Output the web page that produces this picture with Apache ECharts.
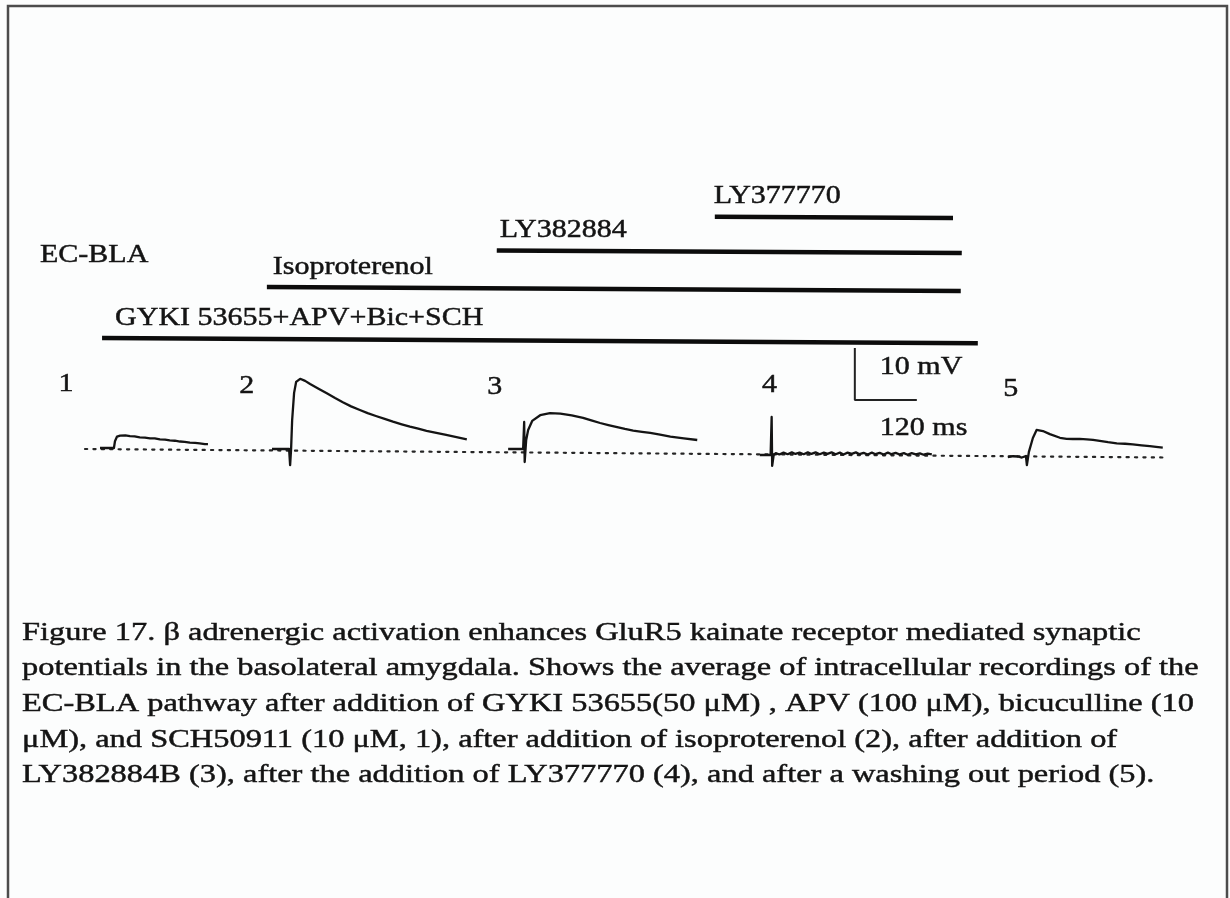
<!DOCTYPE html>
<html>
<head>
<meta charset="utf-8">
<script src="https://cdn.jsdelivr.net/npm/echarts@6/dist/echarts.min.js"></script>
<style>
  html, body { margin: 0; padding: 0; background: #fcfdfd; }
  #chart { width: 1230px; height: 898px; }
</style>
</head>
<body>
<div id="chart"></div>
<script>
// ---- Drug application periods, in ms on the common sweep time axis ----
const drugNames = ['GYKI 53655+APV+Bic+SCH', 'Isoproterenol', 'LY382884', 'LY377770'];
const drugStart = [33, 352, 797, 1219];
const drugEnd   = [1728, 1695, 1697, 1680];

// ---- Averaged recordings: label, stimulus onset (ms) and resting level (mV) ----
const sweepNames    = ['1', '2', '3', '4', '5'];
const sweepOnset    = [58, 397, 850, 1329, 1823];
const sweepBaseline = [1.92, 1.73, 1.73, 0.58, 0.19];

// Time after stimulus (ms) and potential change from rest (mV)
const sweep1T = [-29, -2, 0, 4, 10, 20, 29, 38, 48, 58, 68, 77, 87, 97, 106, 116, 126, 135, 145, 155, 164, 174, 180];
const sweep1V = [0, 0, 1.3, 2.2, 2.4, 2.45, 2.3, 2.25, 2.05, 2.0, 1.85, 1.85, 1.65, 1.6, 1.45, 1.4, 1.25, 1.2, 1.05, 1.0, 0.9, 0.75, 0.75];

const sweep2T = [-35, -2, 0, 1.9, 3.9, 7.7, 11.6, 19.4, 29, 38.7, 55, 71, 87, 102, 118, 135, 150, 166, 183, 199, 216, 232, 248, 264, 283, 302, 322, 342];
const sweep2V = [0, 0, -3.1, 0, 5.5, 10.8, 12.9, 13.5, 13.1, 12.5, 11.6, 10.7, 9.8, 9.0, 8.2, 7.5, 6.9, 6.35, 5.8, 5.25, 4.75, 4.3, 3.9, 3.5, 3.1, 2.7, 2.3, 1.87];

const sweep3T = [-31, -2, 0, 1, 3.9, 7.7, 15.5, 31, 50, 70, 92, 114, 130, 147, 163, 180, 195, 211, 228, 244, 263, 283, 309, 335];
const sweep3V = [0, 0, 5.2, -2.5, 1.73, 3.65, 5.4, 6.5, 6.9, 6.8, 6.45, 6.0, 5.5, 5.0, 4.6, 4.2, 3.85, 3.55, 3.3, 3.1, 2.75, 2.4, 2.05, 1.73];

const sweep4T = [-23, -2, 0, 1, 3.9, 8, 15, 23, 31, 39, 46, 54, 62, 70, 77, 85, 93, 101, 108, 116, 124, 132, 139, 147, 155, 163, 170, 178, 186, 194, 201, 209, 217, 225, 232, 240, 248, 256, 263, 271, 279, 287, 294, 302, 310];
const sweep4V = [0, 0, 7.3, -2.1, 0, 0.35, 0.1, 0.45, 0.15, 0.5, 0.2, 0.45, 0.15, 0.5, 0.2, 0.5, 0.15, 0.45, 0.2, 0.5, 0.15, 0.45, 0.1, 0.45, 0.2, 0.5, 0.15, 0.4, 0.1, 0.45, 0.15, 0.4, 0.1, 0.45, 0.15, 0.4, 0.1, 0.35, 0.05, 0.35, 0.1, 0.3, 0.05, 0.25, 0.1];

const sweep5T = [-37, -27, -17.4, -9.7, -1.9, 0, 3.9, 11.6, 18.8, 31, 44.5, 64, 77, 89, 102, 116, 128, 141, 157, 174, 190, 205, 222, 238, 250, 263];
const sweep5V = [0, 0.15, 0.1, -0.1, 0.2, -1.55, 1.0, 3.65, 5.2, 5.0, 4.4, 3.7, 3.5, 3.46, 3.5, 3.4, 3.3, 3.1, 2.85, 2.63, 2.55, 2.44, 2.25, 2.1, 1.95, 1.8];

// Resting potential reference (dotted), ends in ms / mV
const restT = [0, 2086];
const restV = [1.73, 0.1];

// Calibration bar
const scaleMV = 10;
const scaleMS = 120;

// Caption
const captionLines = [
  'Figure 17. \u03b2 adrenergic activation enhances GluR5 kainate receptor mediated synaptic',
  'potentials in the basolateral amygdala. Shows the average of intracellular recordings of the',
  'EC-BLA pathway after addition of GYKI 53655(50 \u03bcM) , APV (100 \u03bcM), bicuculline (10',
  '\u03bcM), and SCH50911 (10 \u03bcM, 1), after addition of isoproterenol (2), after addition of',
  'LY382884B (3), after the addition of LY377770 (4), and after a washing out period (5).'
];
const pathwayName = 'EC-BLA';

// ---- Layout ----
const FONT = '"Liberation Serif", "Times New Roman", serif';
const INK = '#141414';
const LABEL_SIZE = 25, LABEL_STRETCH = 1.2;
const CAPTION_SIZE = 26, CAPTION_STRETCH = 1.247;
const SCALE_AT = [1490, 11.15];                 // corner of the calibration bar (ms, mV)
const LANE = [168, 116, 78, 43];                // drug bar rows in the upper panel
const LANE_TILT = 0.003;                        // slight slope of the drug bars
const drugLabelShift = [13, 6, 3, -1];          // label start relative to bar start (px)
const sweepLabelAt = [[-37, 14.2], [313, 13.85], [793, 13.5], [1325, 14.0], [1792, 13.1]];
const captionY = [633, 668, 704, 740, 775];

const laneY = (i, t) => LANE[i] + t * LANE_TILT;

const chart = echarts.init(document.getElementById('chart'), null, { renderer: 'canvas' });

const hiddenAxis = { show: false, axisLine: { show: false }, axisTick: { show: false }, axisLabel: { show: false }, splitLine: { show: false } };

const series = [];
const baseLine = { type: 'line', symbol: 'none', silent: true, animation: false, clip: false };

series.push(Object.assign({}, baseLine, {
  xAxisIndex: 0, yAxisIndex: 0,
  data: restT.map((t, i) => [t, restV[i]]),
  lineStyle: { type: [2.2, 6.2], width: 2.2, color: '#262626', cap: 'round' }
}));

const sweeps = [[sweep1T, sweep1V], [sweep2T, sweep2V], [sweep3T, sweep3V], [sweep4T, sweep4V], [sweep5T, sweep5V]];
sweeps.forEach(([T, V], i) => {
  series.push(Object.assign({}, baseLine, {
    xAxisIndex: 0, yAxisIndex: 0,
    data: T.map((t, k) => [sweepOnset[i] + t, sweepBaseline[i] + V[k]]),
    lineStyle: { width: 2.3, color: INK, join: 'round' }
  }));
});

series.push(Object.assign({}, baseLine, {
  xAxisIndex: 0, yAxisIndex: 0,
  data: [[SCALE_AT[0], SCALE_AT[1] + scaleMV], [SCALE_AT[0], SCALE_AT[1]], [SCALE_AT[0] + scaleMS, SCALE_AT[1]]],
  lineStyle: { width: 2, color: '#222' }
}));

drugNames.forEach((name, i) => {
  series.push(Object.assign({}, baseLine, {
    xAxisIndex: 1, yAxisIndex: 1,
    data: [[drugStart[i], laneY(i, drugStart[i])], [drugEnd[i], laneY(i, drugEnd[i])]],
    lineStyle: { width: 4.5, color: '#0c0c0c', cap: 'butt' }
  }));
});

chart.setOption({
  backgroundColor: '#fcfdfd',
  animation: false,
  grid: [
    { left: 85, width: 1085, top: 328, height: 156 },
    { left: 85, width: 1085, top: 170, height: 180 }
  ],
  xAxis: [
    Object.assign({ type: 'value', gridIndex: 0, min: 0, max: 2100 }, hiddenAxis),
    Object.assign({ type: 'value', gridIndex: 1, min: 0, max: 2100 }, hiddenAxis)
  ],
  yAxis: [
    Object.assign({ type: 'value', gridIndex: 0, min: -5, max: 25 }, hiddenAxis),
    Object.assign({ type: 'value', gridIndex: 1, min: 0, max: 180, inverse: true }, hiddenAxis)
  ],
  series: series
});

// ---- Text, placed through the axes ----
const txt = (x, y, text, size, stretch, align) => ({
  type: 'text', x: x, y: y, scaleX: stretch, silent: true,
  style: {
    text: text, fill: INK, stroke: INK, lineWidth: 0.45,
    font: size + 'px ' + FONT, align: align || 'left', verticalAlign: 'middle'
  }
});

const graphics = [];
graphics.push({
  type: 'polyline', silent: true,
  shape: { points: [[8, 898], [8, 6], [1227, 6], [1227, 898]] },
  style: { stroke: '#4c4c4c', lineWidth: 2.5, fill: null }
});

drugNames.forEach((name, i) => {
  const p = chart.convertToPixel({ gridIndex: 1 }, [drugStart[i], laneY(i, drugStart[i])]);
  graphics.push(txt(p[0] + drugLabelShift[i], p[1] - 20, name, LABEL_SIZE, LABEL_STRETCH));
});

sweepNames.forEach((name, i) => {
  const p = chart.convertToPixel({ gridIndex: 0 }, sweepLabelAt[i]);
  graphics.push(txt(p[0], p[1], name, LABEL_SIZE, LABEL_STRETCH, 'center'));
});

const corner = chart.convertToPixel({ gridIndex: 0 }, SCALE_AT);
graphics.push(txt(corner[0] + 25, corner[1] - 33, scaleMV + ' mV', LABEL_SIZE, LABEL_STRETCH));
graphics.push(txt(corner[0] + 25, corner[1] + 28, scaleMS + ' ms', LABEL_SIZE, LABEL_STRETCH));

graphics.push(txt(40, 255, pathwayName, LABEL_SIZE, LABEL_STRETCH));

captionLines.forEach((line, i) => graphics.push(txt(22, captionY[i], line, CAPTION_SIZE, CAPTION_STRETCH)));

chart.setOption({ graphic: graphics });
</script>
</body>
</html>
